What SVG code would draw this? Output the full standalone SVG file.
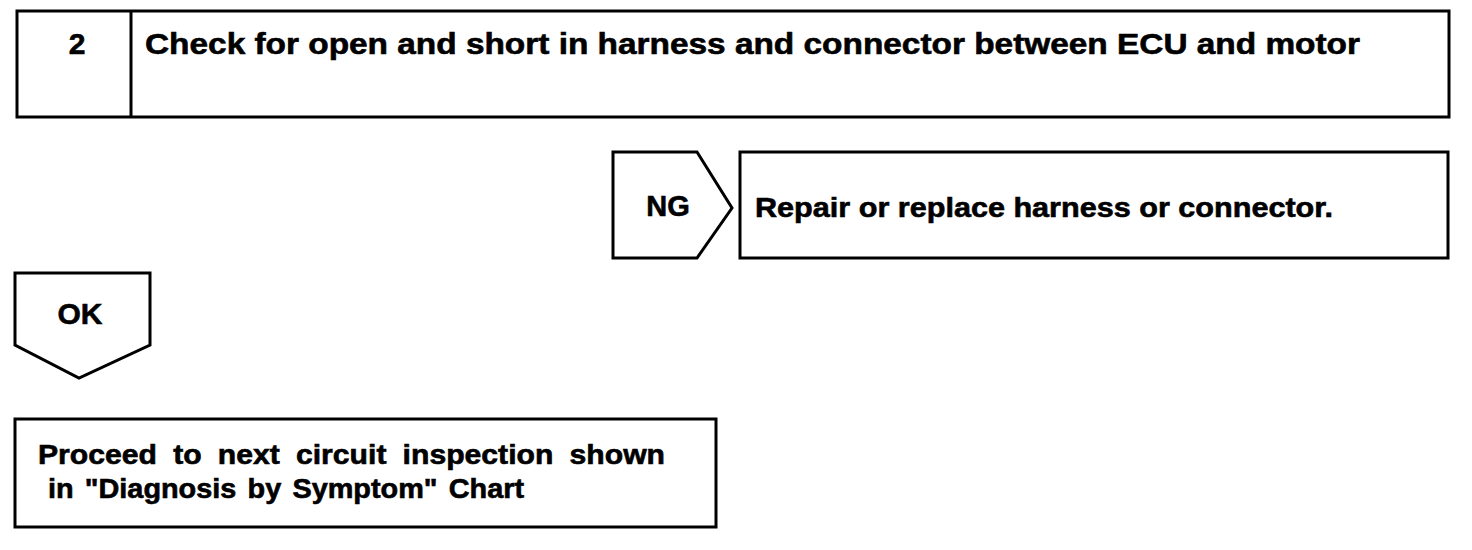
<svg xmlns="http://www.w3.org/2000/svg" width="1472" height="550" viewBox="0 0 1472 550">
<style>
.box{fill:#fff;stroke:#000;stroke-width:3;stroke-linejoin:miter}
.t{font-family:"Liberation Sans",Arial,Helvetica,sans-serif;font-weight:bold;fill:#000;stroke:#000;stroke-width:0.6}
</style>
<rect width="1472" height="550" fill="#fff"/>
<g id="connectors"></g>
<g id="step2">
<rect class="box" x="17" y="11" width="1432" height="106"/>
<line x1="131" y1="11" x2="131" y2="117" stroke="#000" stroke-width="3"/>
<text class="t" x="77" y="54" font-size="30" text-anchor="middle">2</text>
<text class="t" x="145" y="54" font-size="30" textLength="1215" lengthAdjust="spacingAndGlyphs">Check for open and short in harness and connector between ECU and motor</text>
</g>
<g id="ng">
<polygon class="box" points="613,152 697,152 732,208 697,258 613,258"/>
<text class="t" x="668" y="216" font-size="29" text-anchor="middle">NG</text>
</g>
<g id="repair">
<rect class="box" x="740" y="152" width="708" height="106"/>
<text class="t" x="755" y="217" font-size="28" textLength="578" lengthAdjust="spacingAndGlyphs">Repair or replace harness or connector.</text>
</g>
<g id="ok">
<polygon class="box" points="15,273 150,273 150,345 79,378 15,345"/>
<text class="t" x="80" y="324" font-size="30" text-anchor="middle">OK</text>
</g>
<g id="proceed">
<rect class="box" x="15" y="419" width="701" height="108"/>
<text class="t" x="38" y="464" font-size="27" word-spacing="7" textLength="627" lengthAdjust="spacingAndGlyphs">Proceed to next circuit inspection shown</text>
<text class="t" x="48" y="498" font-size="27" word-spacing="3" textLength="476" lengthAdjust="spacingAndGlyphs">in "Diagnosis by Symptom" Chart</text>
</g>
</svg>
